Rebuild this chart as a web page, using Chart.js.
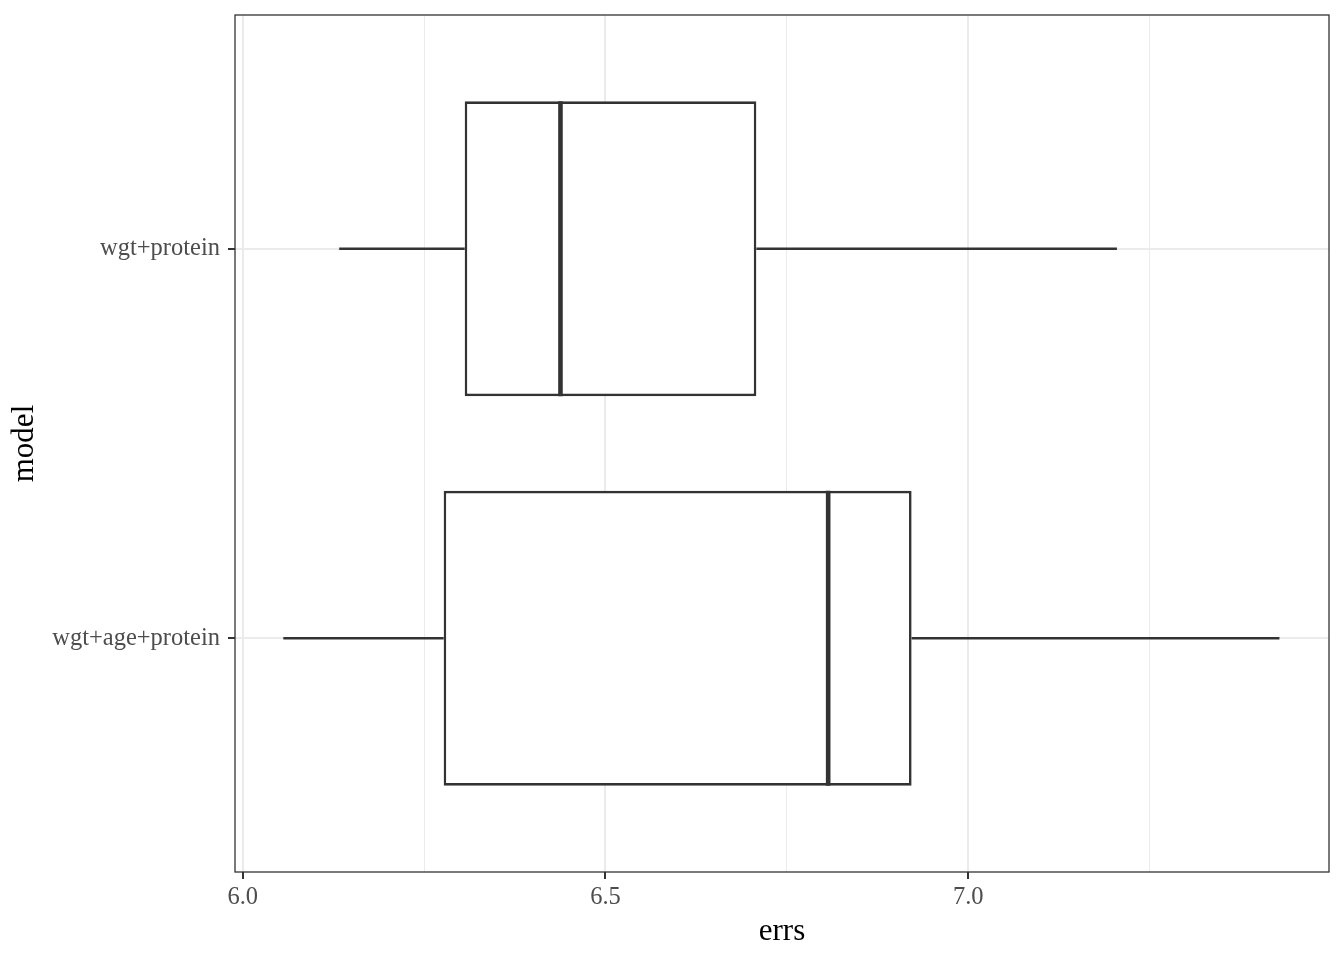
<!DOCTYPE html>
<html>
<head>
<meta charset="utf-8">
<title>errs by model</title>
<script src="https://cdn.jsdelivr.net/npm/chart.js@4.4.1/dist/chart.umd.min.js"></script>
<style>
  html, body { margin: 0; padding: 0; background: #fff; }
  #wrap { width: 1344px; height: 960px; }
</style>
</head>
<body>
<div id="wrap"><canvas id="chart" width="1344" height="960"></canvas></div>
<script>
// ── Data ──────────────────────────────────────────────────
const categories  = ['wgt+protein', 'wgt+age+protein'];
const whiskerLow  = [6.133, 6.056];
const q1          = [6.306, 6.277];
const median      = [6.438, 6.807];
const q3          = [6.708, 6.922];
const whiskerHigh = [7.205, 7.429];

const xTicks      = [6.0, 6.25, 6.5, 6.75, 7.0, 7.25];
const xMajor      = [6.0, 6.5, 7.0];
const xTickLabels = ['6.0', '6.5', '7.0'];

// ── Style ─────────────────────────────────────────────────
const INK   = '#333333';
const GRID  = '#ebebeb';
const TICK  = '#4d4d4d';
const SERIF = "'Liberation Serif', 'DejaVu Serif', serif";

const isMajor = v => xMajor.some(m => Math.abs(m - v) < 1e-9);

// floating bars: [from, to] per category
const rows = (a, b) => categories.map((_, i) => ({ x: [a[i], b[i]], y: i }));

// median line + panel border
const boxExtras = {
  id: 'boxExtras',
  afterDatasetsDraw(chart) {
    const { ctx, chartArea: a, scales: { x } } = chart;
    const meta = chart.getDatasetMeta(0);
    ctx.save();
    ctx.strokeStyle = INK;
    ctx.lineWidth = 4.6;
    ctx.lineCap = 'butt';
    meta.data.forEach((el, i) => {
      const { y, height } = el.getProps(['y', 'height'], true);
      const px = x.getPixelForValue(median[i]);
      ctx.beginPath();
      ctx.moveTo(px, y - height / 2);
      ctx.lineTo(px, y + height / 2);
      ctx.stroke();
    });
    ctx.lineWidth = 1.3;
    ctx.strokeRect(a.left, a.top, a.right - a.left, a.bottom - a.top);
    ctx.restore();
  }
};

new Chart(document.getElementById('chart'), {
  type: 'bar',
  data: {
    datasets: [
      {
        label: 'box',
        data: rows(q1, q3),
        backgroundColor: '#ffffff',
        borderColor: INK,
        borderWidth: 2.6,
        borderSkipped: false,
        grouped: false,
        categoryPercentage: 1,
        barPercentage: 0.757,
      },
      {
        label: 'lower whisker',
        data: rows(whiskerLow, q1),
        backgroundColor: INK,
        borderWidth: 0,
        grouped: false,
        maxBarThickness: 2.5,
      },
      {
        label: 'upper whisker',
        data: rows(q3, whiskerHigh),
        backgroundColor: INK,
        borderWidth: 0,
        grouped: false,
        maxBarThickness: 2.5,
      },
    ]
  },
  options: {
    indexAxis: 'y',
    responsive: false,
    animation: false,
    events: [],
    layout: { padding: { left: 0, right: 15, top: 15, bottom: 0 } },
    plugins: {
      legend: { display: false },
      tooltip: { enabled: false },
    },
    scales: {
      x: {
        type: 'linear',
        position: 'bottom',
        min: 5.9894,
        max: 7.4973,
        beginAtZero: false,
        afterBuildTicks: s => { s.ticks = xTicks.map(v => ({ value: v })); },
        afterFit: s => { s.height = 88; s.paddingLeft = 0; s.paddingRight = 0; },
        border: { display: false },
        grid: {
          color: GRID,
          lineWidth: c => (c.tick && isMajor(c.tick.value) ? 2 : 1),
          tickColor: c => (c.tick && isMajor(c.tick.value) ? INK : 'rgba(0,0,0,0)'),
          tickWidth: 2,
          tickLength: 7,
        },
        ticks: {
          padding: 4,
          color: TICK,
          font: { family: SERIF, size: 24.5 },
          maxRotation: 0,
          autoSkip: false,
          callback: v => {
            const k = xMajor.findIndex(m => Math.abs(m - v) < 1e-9);
            return k >= 0 ? xTickLabels[k] : '';
          }
        },
        title: {
          display: true,
          text: 'errs',
          color: '#000',
          font: { family: SERIF, size: 31 },
          padding: { top: 0, bottom: 10 },
        }
      },
      y: {
        type: 'linear',
        position: 'left',
        reverse: true,
        offset: false,
        min: -0.6,
        max: 1.6,
        afterBuildTicks: s => { s.ticks = categories.map((_, i) => ({ value: i })); },
        afterFit: s => { s.width = 235; s.paddingTop = 0; s.paddingBottom = 0; },
        border: { display: false },
        grid: {
          offset: false,
          color: GRID,
          lineWidth: 2,
          tickColor: INK,
          tickWidth: 2,
          tickLength: 7,
        },
        ticks: {
          padding: 8,
          color: TICK,
          font: { family: SERIF, size: 24.5 },
          autoSkip: false,
          callback: v => categories[v] ?? '',
        },
        title: {
          display: true,
          text: 'model',
          color: '#000',
          font: { family: SERIF, size: 31 },
          padding: { top: 6, bottom: 0 },
        }
      }
    }
  },
  plugins: [boxExtras]
});
</script>
</body>
</html>
